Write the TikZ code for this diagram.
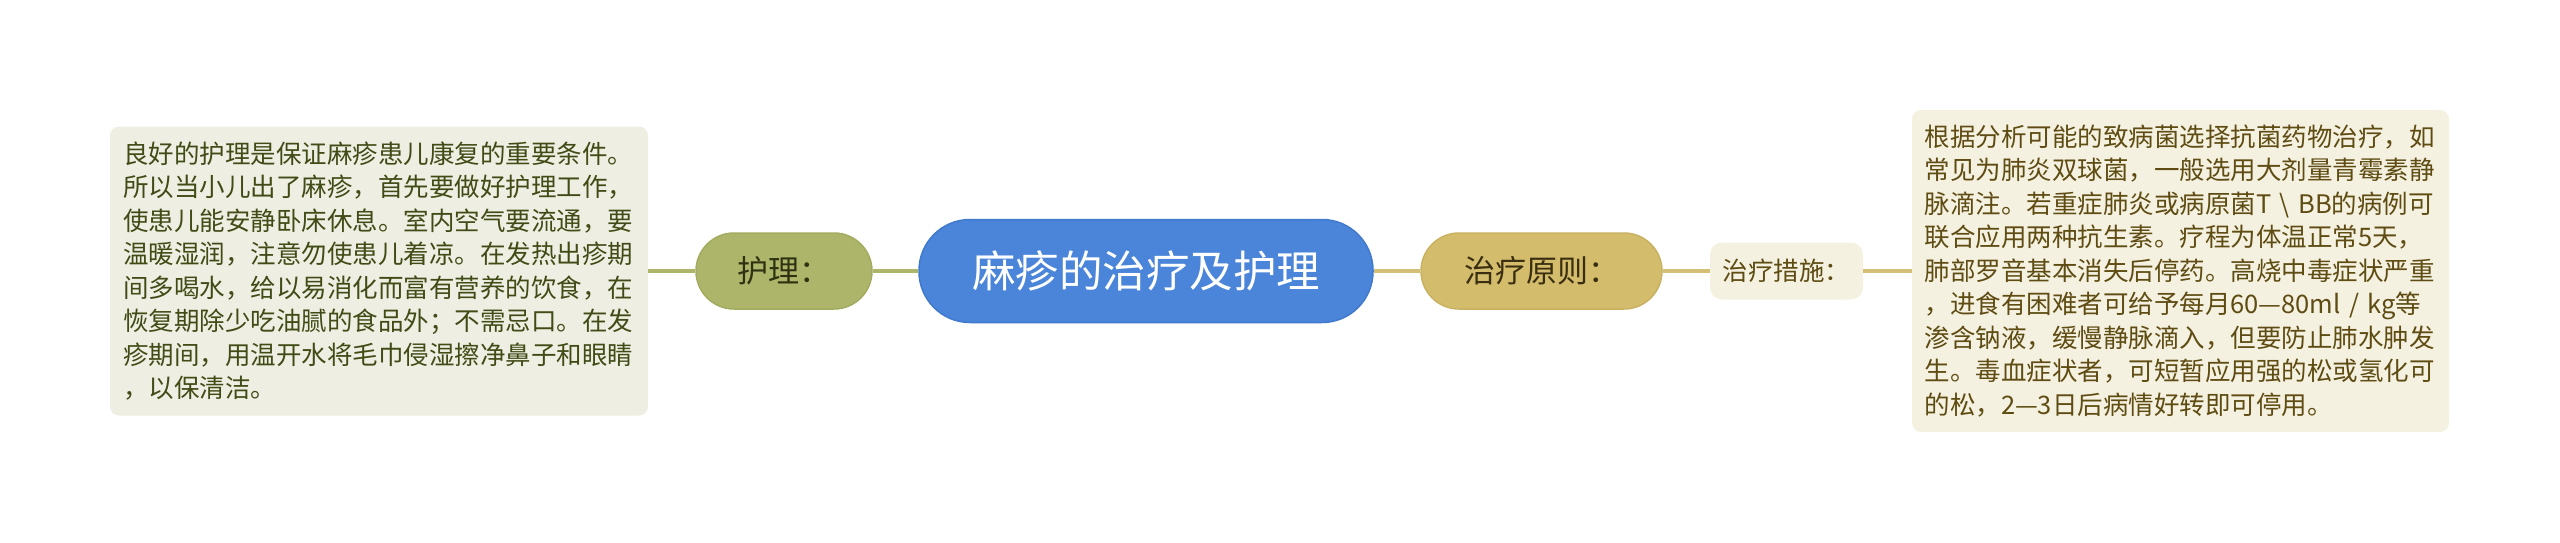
\documentclass[tikz,border=0pt]{standalone}
\usepackage{fontspec}
\setmainfont{Noto Sans CJK SC}
\definecolor{leftfill}{HTML}{EEEEE2}
\definecolor{rightfill}{HTML}{F5F1E1}
\definecolor{leftline}{HTML}{ADB56B}
\definecolor{rightline}{HTML}{D3BF76}
\definecolor{hulifill}{HTML}{ADB56B}
\definecolor{huliborder}{HTML}{A3AB60}
\definecolor{zlfill}{HTML}{D3BC6C}
\definecolor{zlborder}{HTML}{C9B162}
\definecolor{centerfill}{HTML}{4A85D9}
\definecolor{centerborder}{HTML}{4179CC}
\definecolor{lefttext}{HTML}{414B16}
\definecolor{righttext}{HTML}{5E4C12}
\definecolor{hulitext}{HTML}{2E3210}
\definecolor{zltext}{HTML}{3A2E10}
\begin{document}
\begin{tikzpicture}[x=1pt,y=-1pt,
  textbox/.style={rounded corners=9pt, inner sep=0pt, align=left, anchor=center},
  pill/.style={inner sep=0pt, anchor=center, align=center},
  conn/.style={line width=4pt}
]
\useasboundingbox (0,0) rectangle (2560,542);
% left text box
\node[textbox, fill=leftfill, minimum width=538pt, minimum height=289pt,
  text=lefttext, font=\fontsize{25.5}{33.5}\selectfont, text width=512pt] (care) at (379,271)
  {良好的护理是保证麻疹患儿康复的重要条件。\\
   所以当小儿出了麻疹，首先要做好护理工作，\\
   使患儿能安静卧床休息。室内空气要流通，要\\
   温暖湿润，注意勿使患儿着凉。在发热出疹期\\
   间多喝水，给以易消化而富有营养的饮食，在\\
   恢复期除少吃油腻的食品外；不需忌口。在发\\
   疹期间，用温开水将毛巾侵湿擦净鼻子和眼睛\\
   ，以保清洁。};
% 护理
\node[pill, fill=hulifill, draw=huliborder, line width=1.5pt, rounded corners=38pt,
  minimum width=176pt, minimum height=76pt, text=hulitext,
  font=\fontsize{31}{36}\selectfont] (huli) at (784,271) {护理：};
% center
\node[pill, fill=centerfill, draw=centerborder, line width=1.5pt, rounded corners=51pt,
  minimum width=454pt, minimum height=103pt, text=white,
  font=\fontsize{43.5}{50}\selectfont] (root) at (1146,271) {麻疹的治疗及护理};
% 治疗原则
\node[pill, fill=zlfill, draw=zlborder, line width=1.5pt, rounded corners=38pt,
  minimum width=241pt, minimum height=76pt, text=zltext,
  font=\fontsize{31}{36}\selectfont] (yuanze) at (1541.5,271) {治疗原则：};
% 治疗措施
\node[pill, fill=rightfill, rounded corners=12pt,
  minimum width=153pt, minimum height=57pt, text=righttext,
  font=\fontsize{25.5}{30}\selectfont] (cuoshi) at (1786.5,271) {治疗措施：};
% right text box
\node[textbox, fill=rightfill, minimum width=537pt, minimum height=322pt,
  text=righttext, font=\fontsize{25.5}{33.5}\selectfont, text width=512pt] (treat) at (2180.5,271)
  {根据分析可能的致病菌选择抗菌药物治疗，如\\
   常见为肺炎双球菌，一般选用大剂量青霉素静\\
   脉滴注。若重症肺炎或病原菌T \textbackslash\ BB的病例可\\
   联合应用两种抗生素。疗程为体温正常5天，\\
   肺部罗音基本消失后停药。高烧中毒症状严重\\
   ，进食有困难者可给予每月60—80ml / kg等\\
   渗含钠液，缓慢静脉滴入，但要防止肺水肿发\\
   生。毒血症状者，可短暂应用强的松或氢化可\\
   的松，2—3日后病情好转即可停用。};
% connectors
\draw[conn, leftline] (care.east) -- (huli.west);
\draw[conn, leftline] (huli.east) -- (root.west);
\draw[conn, rightline] (root.east) -- (yuanze.west);
\draw[conn, rightline] (yuanze.east) -- (cuoshi.west);
\draw[conn, rightline] (cuoshi.east) -- (treat.west);
\end{tikzpicture}
\end{document}
